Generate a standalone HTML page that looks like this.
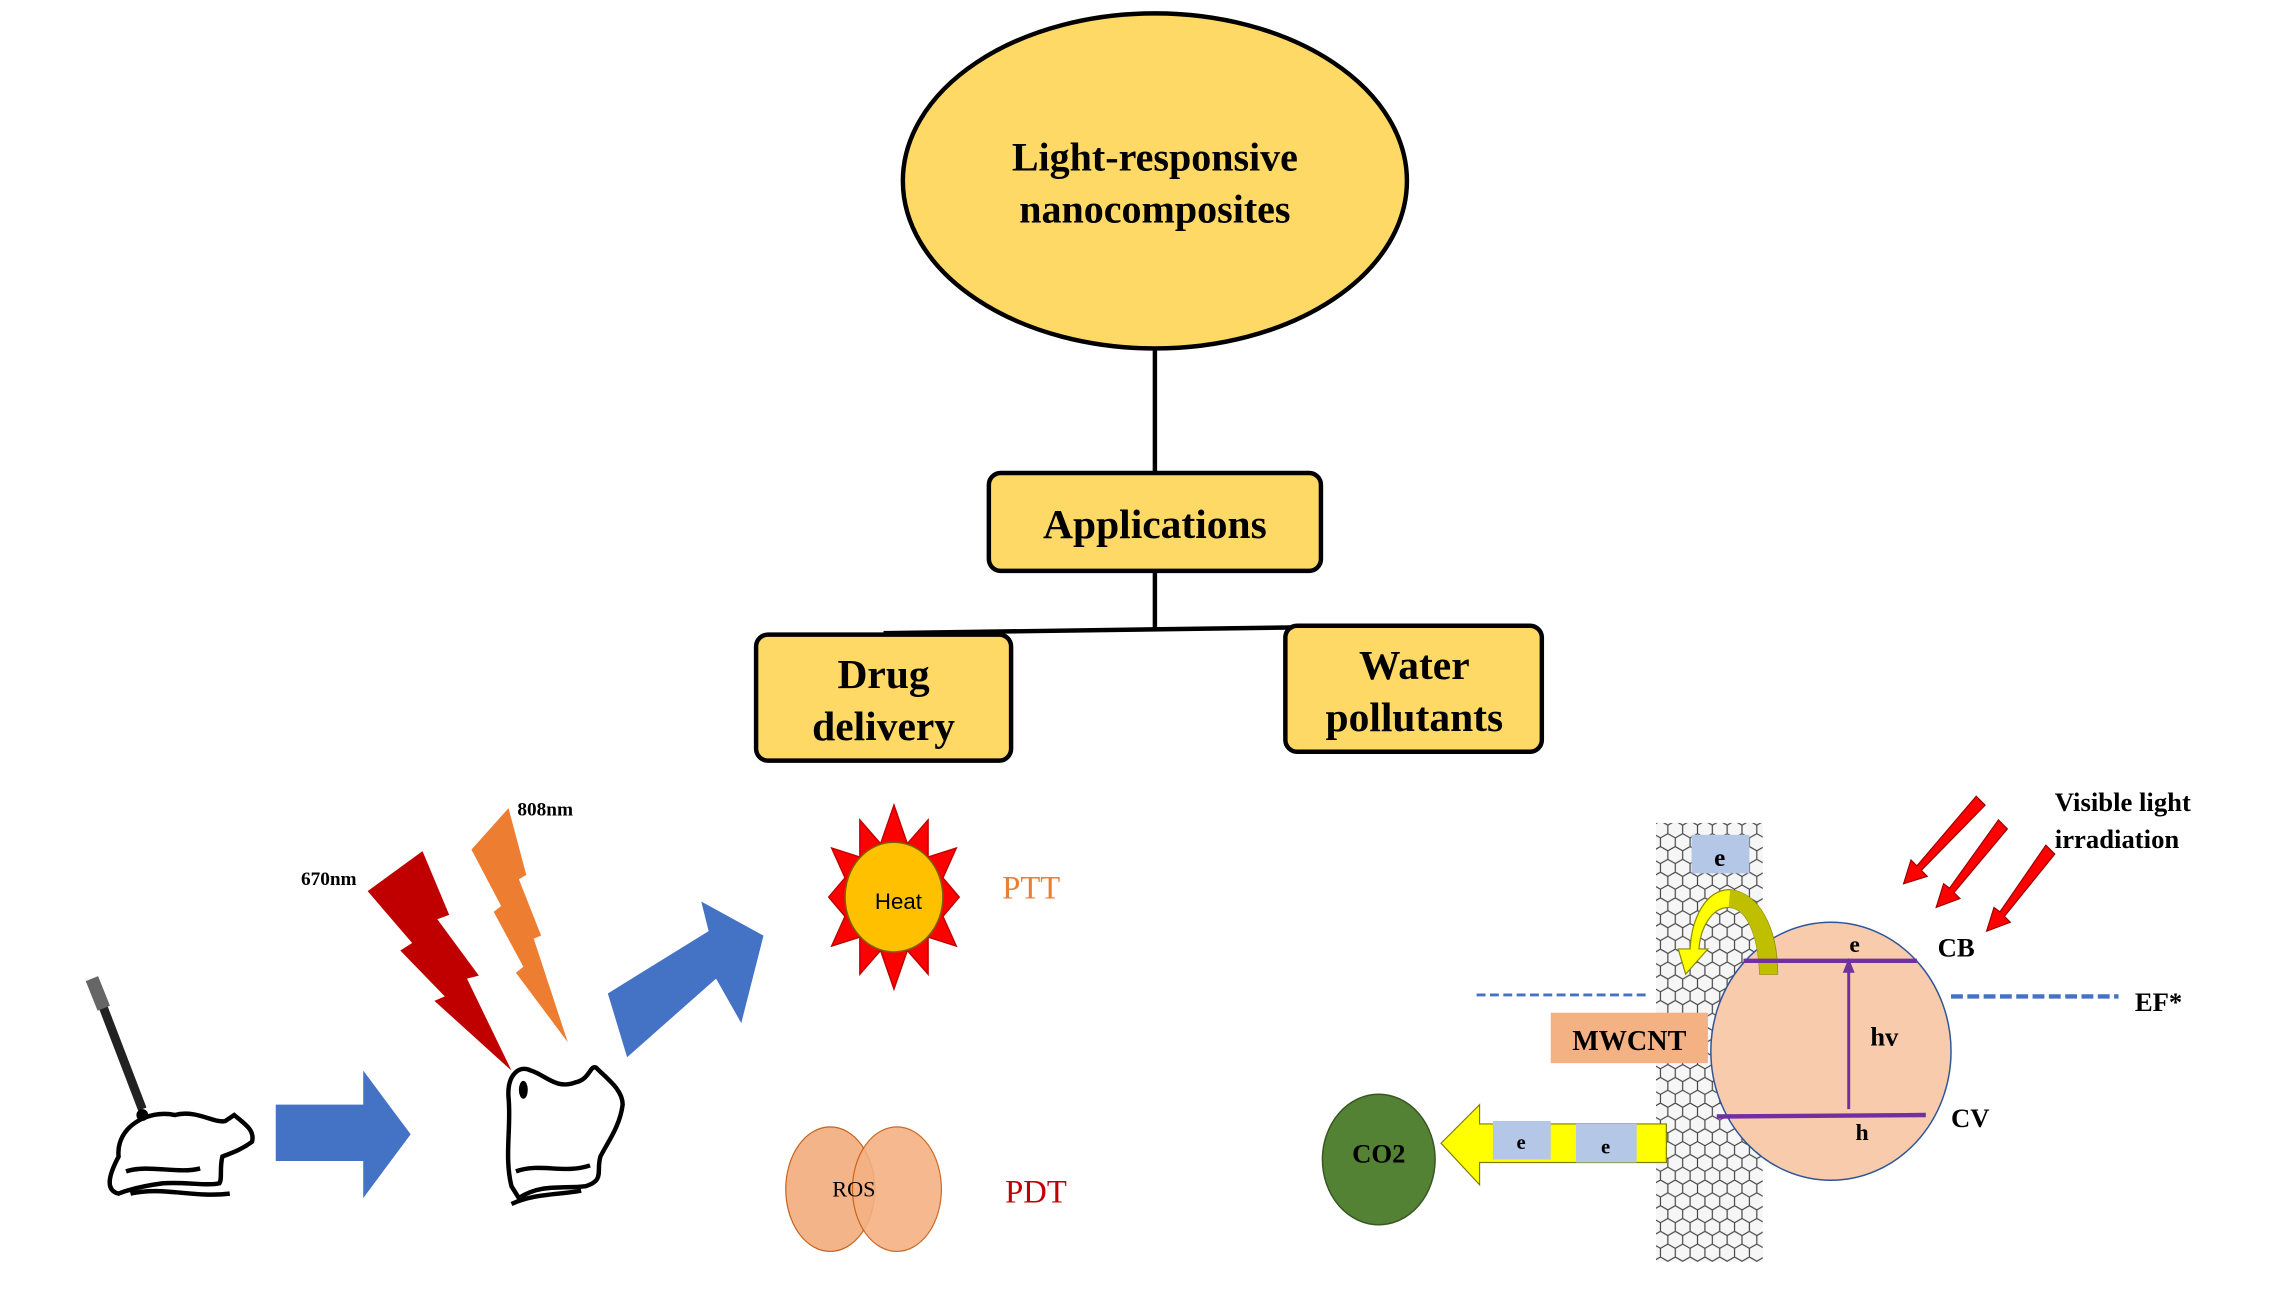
<!DOCTYPE html>
<html><head><meta charset="utf-8"><style>html,body{margin:0;padding:0;background:#fff}svg{display:block}</style></head>
<body>
<svg width="2292" height="1290" viewBox="0 0 1546 870" preserveAspectRatio="none" xmlns="http://www.w3.org/2000/svg" font-family="Liberation Serif, serif">
<defs>
<pattern id="hex" width="10" height="17.3" patternUnits="userSpaceOnUse">
<path d="M0,0 L5,2.9 L5,8.65 L0,11.5 M5,2.9 L10,0 M5,8.65 L10,11.5 M0,11.5 L0,17.3 M10,11.5 L10,17.3" fill="none" stroke="#444" stroke-width="0.8"/>
</pattern>
</defs>
<ellipse cx="779" cy="122" rx="170" ry="113" fill="#FFD966" stroke="#000" stroke-width="3"/>
<text x="779" y="115" font-size="27" font-weight="bold" text-anchor="middle">Light-responsive</text>
<text x="779" y="150" font-size="27" font-weight="bold" text-anchor="middle">nanocomposites</text>
<line x1="779" y1="235" x2="779" y2="320" stroke="#000" stroke-width="3"/>
<rect x="667" y="319" width="224" height="66" rx="8" fill="#FFD966" stroke="#000" stroke-width="3"/>
<text x="779" y="363" font-size="28" font-weight="bold" text-anchor="middle">Applications</text>
<line x1="779" y1="385" x2="779" y2="424" stroke="#000" stroke-width="3"/>
<line x1="596" y1="427" x2="955" y2="422" stroke="#000" stroke-width="3"/>
<rect x="510" y="428" width="172" height="85" rx="8" fill="#FFD966" stroke="#000" stroke-width="3"/>
<text x="596" y="464" font-size="28" font-weight="bold" text-anchor="middle">Drug</text>
<text x="596" y="499" font-size="28" font-weight="bold" text-anchor="middle">delivery</text>
<rect x="867" y="422" width="173" height="85" rx="8" fill="#FFD966" stroke="#000" stroke-width="3"/>
<text x="954" y="458" font-size="28" font-weight="bold" text-anchor="middle">Water</text>
<text x="954" y="493" font-size="28" font-weight="bold" text-anchor="middle">pollutants</text>

<line x1="63" y1="662" x2="96" y2="748" stroke="#222" stroke-width="6"/>
<line x1="62" y1="660" x2="70" y2="680" stroke="#666" stroke-width="9"/>
<path d="M80,780 C78,760 100,748 118,752 C132,748 145,758 152,756 L158,752 C165,758 172,762 170,770 C162,776 155,778 150,780 C148,788 150,795 148,798 C140,800 125,797 110,798 C95,800 85,803 80,805 C72,803 72,795 80,780 Z" fill="#fff" stroke="#000" stroke-width="3"/>
<circle cx="96" cy="752" r="4" fill="#000"/>
<path d="M85,790 C100,785 120,792 135,788 M88,805 C110,800 130,808 155,805" fill="none" stroke="#000" stroke-width="3"/>
<polygon points="186,745 245,745 245,722 277,765 245,808 245,783 186,783" fill="#4472C4"/>
<polygon points="248,601 285,574 303,617 295,620 323,658 315,660 345,722 293,675 300,672 270,641 278,636" fill="#C00000"/>
<polygon points="318,573 343,545 355,590 350,593 365,631 360,633 383,703 348,656 353,652 333,615 338,611" fill="#ED7D31"/>
<text x="203" y="597" font-size="13" font-weight="bold">670nm</text>
<text x="349" y="550" font-size="13" font-weight="bold">808nm</text>
<path d="M345,800 C340,780 345,760 343,740 C342,725 350,718 358,722 C368,725 375,735 388,730 C398,728 398,718 402,720 C410,728 420,735 420,745 C418,760 410,770 405,780 C402,790 408,796 395,800 C380,802 365,798 350,808 Z" fill="#fff" stroke="#000" stroke-width="3"/>
<ellipse cx="353" cy="735" rx="3" ry="6" fill="#000"/>
<path d="M348,790 C365,784 380,792 398,786 M345,812 C360,805 375,806 392,803" fill="none" stroke="#000" stroke-width="3"/>
<polygon points="410,670 478,628 473,608 515,631 500,690 483,660 423,713" fill="#4472C4"/>
<polygon fill="#FF0000" stroke="#C00000" stroke-width="1" points="
603,543 612,569 626,553 626,578 645,572 636,592 647,605 636,618 645,638 626,632 626,657 612,641 603,667 594,641 580,657 580,632 561,638 570,618 559,605 570,592 561,572 580,578 580,553 594,569"/>
<ellipse cx="603" cy="605" rx="33" ry="37" fill="#FFC000" stroke="#7f6000" stroke-width="1"/>
<text x="606" y="613" font-size="15" font-family="Liberation Sans, sans-serif" text-anchor="middle">Heat</text>
<text x="676" y="606" font-size="22" fill="#ED7D31">PTT</text>
<ellipse cx="560" cy="802" rx="30" ry="42" fill="#F4B183" stroke="#c55a11" stroke-width="0.8" opacity="0.95"/>
<ellipse cx="605" cy="802" rx="30" ry="42" fill="#F4B183" stroke="#c55a11" stroke-width="0.8" opacity="0.9"/>
<text x="576" y="807" font-size="15" text-anchor="middle">ROS</text>
<text x="678" y="811" font-size="22" fill="#C00000">PDT</text>

<rect x="1117" y="555" width="72" height="296" fill="#f6f6f6"/>
<rect x="1117" y="555" width="72" height="296" fill="url(#hex)"/>
<rect x="1141" y="563" width="39" height="26" fill="#B4C7E7"/>
<text x="1160" y="584" font-size="17" font-weight="bold" text-anchor="middle">e</text>
<line x1="996" y1="671" x2="1113" y2="671" stroke="#4472C4" stroke-width="2" stroke-dasharray="6,3"/>
<line x1="1316" y1="672" x2="1429" y2="672" stroke="#4472C4" stroke-width="3" stroke-dasharray="8,3"/>
<ellipse cx="1235" cy="709" rx="81" ry="87" fill="#F8CBAD" stroke="#2F5597" stroke-width="1"/>
<path d="M1187,657 L1199,657 C1199,625 1186,602 1167,600 C1150,600 1141,620 1140,640 L1132,640 L1137,657 L1152,640 L1146,640 C1147,625 1155,612 1166,612 C1178,612 1186,630 1187,657 Z" fill="#FFFF00" stroke="#888800" stroke-width="0.8"/>
<path d="M1187,657 L1199,657 C1199,625 1186,602 1167,600 L1166,612 C1178,612 1186,630 1187,657 Z" fill="#BFBF00"/>
<line x1="1176" y1="648" x2="1293" y2="648" stroke="#7030A0" stroke-width="3"/>
<line x1="1158" y1="753" x2="1299" y2="752" stroke="#7030A0" stroke-width="3"/>
<line x1="1247" y1="748" x2="1247" y2="654" stroke="#7030A0" stroke-width="2"/>
<polygon points="1247,646 1243,656 1251,656" fill="#7030A0"/>
<text x="1251" y="642" font-size="16" font-weight="bold" text-anchor="middle">e</text>
<text x="1256" y="769" font-size="16" font-weight="bold" text-anchor="middle">h</text>
<text x="1271" y="705" font-size="18" font-weight="bold" text-anchor="middle">hv</text>
<text x="1307" y="645" font-size="18" font-weight="bold">CB</text>
<text x="1316" y="760" font-size="18" font-weight="bold">CV</text>
<text x="1440" y="682" font-size="18" font-weight="bold">EF*</text>
<rect x="1046" y="683" width="106" height="34" fill="#F4B183"/>
<text x="1099" y="708" font-size="19" font-weight="bold" text-anchor="middle">MWCNT</text>
<text x="1386" y="547" font-size="18" font-weight="bold">Visible light</text>
<text x="1386" y="572" font-size="18" font-weight="bold">irradiation</text>
<g fill="#FF0000" stroke="#900" stroke-width="0.8">
<polygon points="1333,537 1339,543 1296,587 1300,591 1284,596 1289,580 1293,584"/>
<polygon points="1348,553 1354,559 1318,602 1322,606 1306,612 1311,596 1315,599"/>
<polygon points="1380,570 1386,576 1352,618 1356,622 1340,628 1345,612 1349,615"/>
</g>
<polygon points="998,758 1124,758 1124,784 998,784 998,799 972,771 998,745" fill="#FFFF00" stroke="#7f7f00" stroke-width="0.8"/>
<rect x="1007" y="756" width="39" height="26" fill="#B4C7E7"/>
<rect x="1063" y="758" width="41" height="26" fill="#B4C7E7"/>
<text x="1026" y="775" font-size="14" font-weight="bold" text-anchor="middle">e</text>
<text x="1083" y="778" font-size="14" font-weight="bold" text-anchor="middle">e</text>
<ellipse cx="930" cy="782" rx="38" ry="44" fill="#548235" stroke="#385723" stroke-width="1"/>
<text x="930" y="784" font-size="18" font-weight="bold" text-anchor="middle">CO2</text>
</svg>
</body></html>
